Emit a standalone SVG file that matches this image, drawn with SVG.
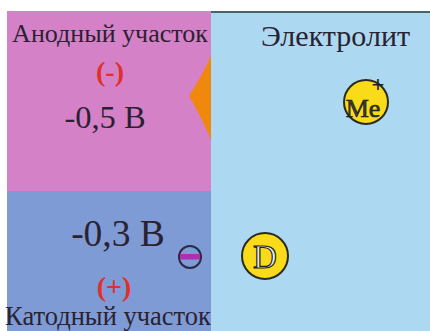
<svg xmlns="http://www.w3.org/2000/svg" width="430" height="331" viewBox="0 0 430 331">
<style>
.t{fill:#2a2230}
.r{fill:#e0302a;font-weight:bold}
.ball{fill:#f9db1a;stroke:#2a2a20;stroke-width:2}
</style>
<rect width="430" height="331" fill="#ffffff"/>
<g id="anode" font-family="'Liberation Serif', 'DejaVu Serif', serif">
<rect x="7" y="11" width="204" height="180" fill="#d581c8"/>
<text class="t" x="110" y="42" font-size="26" text-anchor="middle">Анодный участок</text>
<text class="r" x="110" y="81" font-size="28" text-anchor="middle">(-)</text>
<text class="t" x="105" y="128" font-size="32.5" text-anchor="middle">-0,5 В</text>
</g>
<g id="cathode" font-family="'Liberation Serif', 'DejaVu Serif', serif">
<rect x="7" y="191" width="204" height="140" fill="#7f9bd6"/>
<text class="t" x="118" y="246" font-size="37.5" text-anchor="middle">-0,3 В</text>
<text class="r" x="114" y="296" font-size="28" text-anchor="middle">(+)</text>
<text class="t" x="108" y="325" font-size="26.5" text-anchor="middle">Катодный участок</text>
</g>
<g id="electrolyte" font-family="'Liberation Serif', 'DejaVu Serif', serif">
<rect x="211" y="11" width="219" height="320" fill="#acd9f1"/>
<line x1="211" y1="12" x2="430" y2="12" stroke="#2a3a3a" stroke-width="1.5"/>
<text class="t" x="335.5" y="46" font-size="30" text-anchor="middle">Электролит</text>
</g>
<g id="orange">
<path d="M211,55 C205,70 196,85 189,96 C196,108 205,125 211,140 Z" fill="#f0880e"/>
</g>
<g id="electron">
<circle cx="190" cy="257" r="11" fill="none" stroke="#2a2a40" stroke-width="2"/>
<rect x="180" y="254" width="20" height="5.5" fill="#b02eb0"/>
</g>
<g id="me" font-family="'Liberation Serif', 'DejaVu Serif', serif">
<circle class="ball" cx="366" cy="102" r="22"/>
<text x="363" y="117" font-size="26" text-anchor="middle" fill="#3a3a3a" stroke="#111" stroke-width="0.6">Me</text>
<text x="378" y="92" font-size="22" text-anchor="middle" font-family="'Liberation Sans', sans-serif" fill="#222">+</text>
</g>
<g id="d" font-family="'Liberation Serif', 'DejaVu Serif', serif">
<circle class="ball" cx="265" cy="256" r="23"/>
<text x="265" y="268" font-size="33" text-anchor="middle" fill="#e8f0f0" stroke="#222" stroke-width="1.2">D</text>
</g>
</svg>
